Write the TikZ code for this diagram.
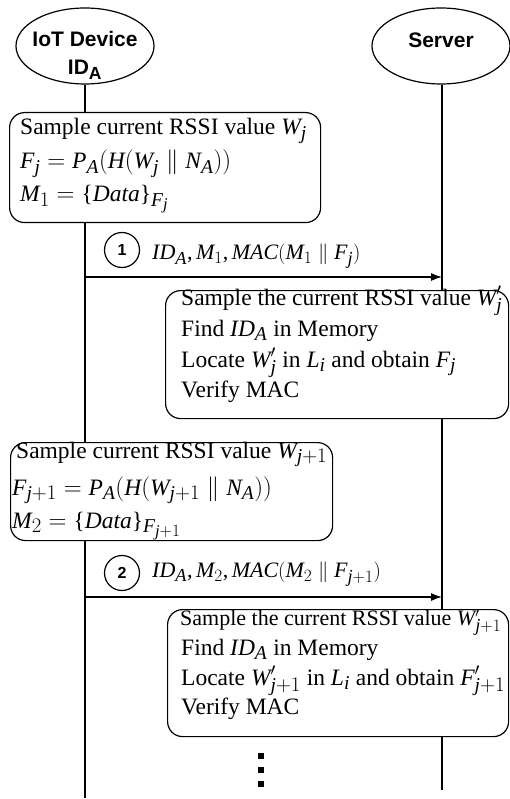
\documentclass[tikz,border=0pt]{standalone}
\usepackage{fontspec}
\setmainfont{Liberation Serif}
\setsansfont{Liberation Sans}
\usepackage[italic]{mathastext}
\usetikzlibrary{shapes.geometric,arrows.meta}
\newcommand{\myprime}{{\scriptscriptstyle\prime}}
\tikzset{
  actor/.style={ellipse, draw, line width=1.2pt, inner sep=0pt, minimum width=138pt, minimum height=76pt},
  actortxt/.style={anchor=base, inner sep=0pt, font=\sffamily\bfseries\fontsize{21}{25}\selectfont},
  procbox/.style={draw, fill=white, rounded corners=15pt, line width=1.2pt, inner sep=0pt, anchor=north west},
  boxtxt/.style={anchor=base west, inner sep=0pt, font=\fontsize{23.5}{28}\selectfont},
  msgtxt/.style={anchor=base west, inner sep=0pt, font=\fontsize{22}{26}\selectfont},
  stepnum/.style={circle, draw, fill=white, line width=1.2pt, minimum size=35pt, inner sep=0pt, font=\sffamily\bfseries\fontsize{16}{18}\selectfont},
  lifeline/.style={line width=1.2pt},
  msgarrow/.style={line width=1.2pt, -{Latex[length=11pt,width=8pt]}},
  dotsq/.style={fill=black, inner sep=0pt, minimum size=6pt, rectangle}
}
\begin{document}
\begin{tikzpicture}[x=1pt,y=-1pt]
\useasboundingbox (0,0) rectangle (510,799);
% actors
\node[actor] (iot) at (85,46) {};
\node[actor] (srv) at (441,46) {};
\node[actortxt] (iott1) at (85,47) {IoT Device};
\node[actortxt] (iott2) at (85,75) {ID\textsubscript{A}};
\node[actortxt] (srvt) at (441,48) {Server};
% lifelines
\coordinate (lbot) at (85,798);
\coordinate (rbot) at (442,790);
\draw[lifeline] (iot.south) -- (lbot);
\draw[lifeline] (srv.south -| rbot) -- (rbot);
% box 1
\node[procbox, minimum width=311pt, minimum height=110pt] (b1) at (9,112) {};
\node[boxtxt] (b1l1) at (20,135) {Sample current RSSI value $W_j$};
\node[boxtxt] (b1l2) at (20,169) {$F_j = P_A(H(W_j \parallel N_A))$};
\node[boxtxt] (b1l3) at (20,202) {$M_1 = \{Data\}_{F_j}$};
% message 1
\node[stepnum] (s1) at (122,250) {1};
\node[msgtxt] (m1) at (152,260) {$ID_A, M_1, MAC(M_1 \parallel F_j)$};
\coordinate (a1s) at (85,277);
\coordinate (a1e) at (442,277);
\draw[msgarrow] (a1s) -- (a1e);
% box 2
\node[procbox, minimum width=343pt, minimum height=128pt] (b2) at (165,290) {};
\node[boxtxt] (b2l1) at (181,305) {Sample the current RSSI value $W^{\myprime}_j$};
\node[boxtxt] (b2l2) at (181,336) {Find $ID_A$ in Memory};
\node[boxtxt] (b2l3) at (181,367) {Locate $W^{\myprime}_j$ in $L_i$ and obtain $F_j$};
\node[boxtxt] (b2l4) at (181,397) {Verify MAC};
% box 3
\node[procbox, minimum width=322pt, minimum height=98pt] (b3) at (10,442) {};
\node[boxtxt] (b3l1) at (16,458) {Sample current RSSI value $W_{j+1}$};
\node[boxtxt] (b3l2) at (12,495) {$F_{j+1} = P_A(H(W_{j+1} \parallel N_A))$};
\node[boxtxt] (b3l3) at (12,528) {$M_2 = \{Data\}_{F_{j+1}}$};
% message 2
\node[stepnum] (s2) at (122,573) {2};
\node[msgtxt] (m2) at (152,577) {$ID_A, M_2, MAC(M_2 \parallel F_{j+1})$};
\coordinate (a2s) at (85,597);
\coordinate (a2e) at (442,597);
\draw[msgarrow] (a2s) -- (a2e);
% box 4
\node[procbox, minimum width=341pt, minimum height=127pt] (b4) at (167,609) {};
\node[boxtxt, font=\fontsize{22}{28}\selectfont] (b4l1) at (180,625) {Sample the current RSSI value $W^{\myprime}_{j+1}$};
\node[boxtxt] (b4l2) at (181,655) {Find $ID_A$ in Memory};
\node[boxtxt] (b4l3) at (181,685) {Locate $W^{\myprime}_{j+1}$ in $L_i$ and obtain $F^{\myprime}_{j+1}$};
\node[boxtxt] (b4l4) at (181,714) {Verify MAC};
% continuation dots
\node[dotsq] (d1) at (261,756) {};
\node[dotsq] (d2) at (261,770) {};
\node[dotsq] (d3) at (261,784) {};
\end{tikzpicture}
\end{document}
